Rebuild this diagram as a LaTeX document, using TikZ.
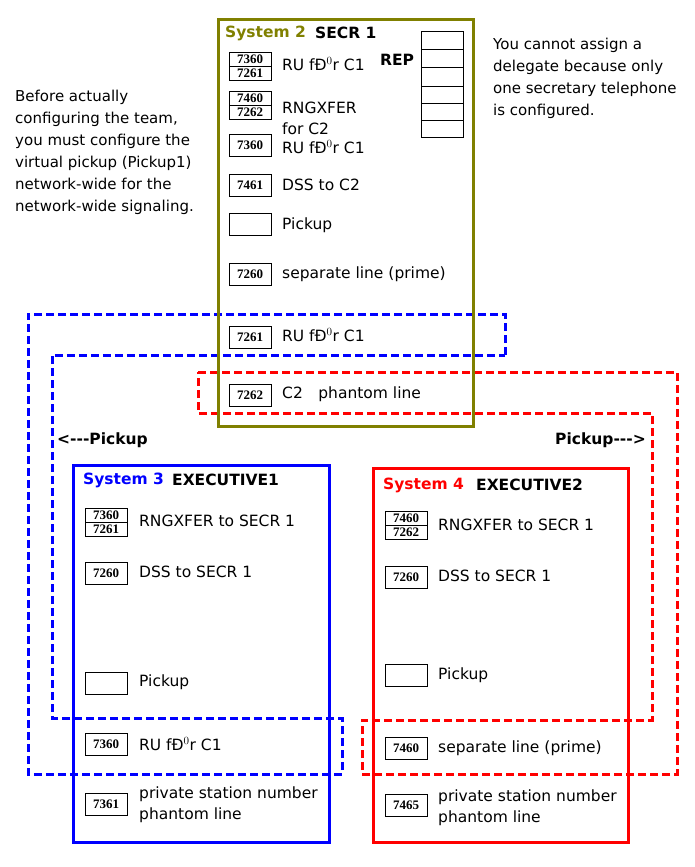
\documentclass[tikz,border=0pt]{standalone}
\usepackage{fontspec}
\setmainfont{DejaVu Sans}
\newfontfamily\keyfont{Liberation Serif}
\usetikzlibrary{positioning}
\definecolor{olivebox}{RGB}{128,128,0}
\tikzset{
  key/.style={draw, thick, inner sep=0pt, minimum width=42pt, minimum height=22pt, font=\keyfont\bfseries\fontsize{13}{13}\selectfont},
  halfkey/.style={key, minimum height=14pt},
  lbl/.style={anchor=west, inner sep=0pt, font=\fontsize{15.5}{21}\selectfont},
  ttl/.style={anchor=west, inner sep=0pt, font=\bfseries\fontsize{15.5}{17}\selectfont},
  note/.style={anchor=north west, inner sep=0pt, align=left, font=\fontsize{15}{22}\selectfont},
  sysbox/.style={line width=3pt},
  link/.style={line width=3pt, dashed, dash pattern=on 8pt off 4pt}
}
\newcommand{\keyone}[4]{\node[key] (#1) at (#2,#3) {#4};}
\newcommand{\keytwo}[5]{\node[halfkey] (#1a) at (#2,#3-7) {#4};\node[halfkey] (#1b) at (#2,#3+7) {#5};}
\begin{document}
\begin{tikzpicture}[x=1pt,y=-1pt]
\useasboundingbox (0,0) rectangle (695,867);
	% links
\draw[link, blue] (505,355) -- (505,314) -- (28,314) -- (28,774) -- (342,774) -- (342,718) -- (52,718) -- (52,355) -- cycle;
\draw[link, red] (198,372) -- (677,372) -- (677,774) -- (362,774) -- (362,720) -- (652,720) -- (652,413) -- (198,413) -- cycle;
	% System 2
\draw[sysbox, olivebox] (218,20) rectangle (473,426);
\node[ttl, text=olivebox] (s2) at (225,33) {System 2};
\node[ttl] (secr) at (315,33) {SECR 1};
\node[ttl] (rep) at (380,60) {REP};
\draw[thick] (421,31) rectangle (463,137);
\foreach \y in {49,67,86,103,120} \draw[thick] (421,\y) -- (463,\y);
\keytwo{k21}{250}{66}{7360}{7261}
\keytwo{k22}{250}{105}{7460}{7262}
\keyone{k23}{250}{145}{7360}
\keyone{k24}{250}{185}{7461}
\keyone{k25}{250}{224}{}
\keyone{k26}{250}{274}{7260}
\keyone{k27}{250}{337}{7261}
\keyone{k28}{250}{395}{7262}
\node[lbl] at (282,64) {RU fÐ$^0$r C1};
\node[lbl, align=left] at (282,118) {RNGXFER\\for C2};
\node[lbl] at (282,147) {RU fÐ$^0$r C1};
\node[lbl] at (282,185) {DSS to C2};
\node[lbl] at (282,225) {Pickup};
\node[lbl] at (282,274) {separate line (prime)};
\node[lbl] at (282,335) {RU fÐ$^0$r C1};
\node[lbl] at (282,394) {C2\quad phantom line};
	% notes
\node[note] (left) at (15,90) {Before actually\\configuring the team,\\you must configure the\\virtual pickup (Pickup1)\\network-wide for the\\network-wide signaling.};
\node[note] (right) at (493,38) {You cannot assign a\\delegate because only\\one secretary telephone\\is configured.};
\node[ttl] (pl) at (57,440) {<{-}{-}{-}Pickup};
\node[ttl] (pr) at (555,440) {Pickup{-}{-}{-}>};
	% System 3
\draw[sysbox, blue] (73,465) rectangle (329,842);
\node[ttl, text=blue] (s3) at (83,480) {System 3};
\node[ttl] at (172,480) {EXECUTIVE1};
\keytwo{k31}{106}{522}{7360}{7261}
\keyone{k32}{106}{573}{7260}
\keyone{k33}{106}{683}{}
\keyone{k34}{106}{744}{7360}
\keyone{k35}{106}{804}{7361}
\node[lbl] at (139,521) {RNGXFER to SECR 1};
\node[lbl] at (139,572) {DSS to SECR 1};
\node[lbl] at (139,682) {Pickup};
\node[lbl] at (139,744) {RU fÐ$^0$r C1};
\node[lbl, align=left] at (139,805) {private station number\\phantom line};
	% System 4
\draw[sysbox, red] (373,468) rectangle (628,842);
\node[ttl, text=red] (s4) at (383,485) {System 4};
\node[ttl] at (476,485) {EXECUTIVE2};
\keytwo{k41}{406}{525}{7460}{7262}
\keyone{k42}{406}{577}{7260}
\keyone{k43}{406}{675}{}
\keyone{k44}{406}{748}{7460}
\keyone{k45}{406}{805}{7465}
\node[lbl] at (438,525) {RNGXFER to SECR 1};
\node[lbl] at (438,576) {DSS to SECR 1};
\node[lbl] at (438,675) {Pickup};
\node[lbl] at (438,748) {separate line (prime)};
\node[lbl, align=left] at (438,808) {private station number\\phantom line};
\end{tikzpicture}
\end{document}
